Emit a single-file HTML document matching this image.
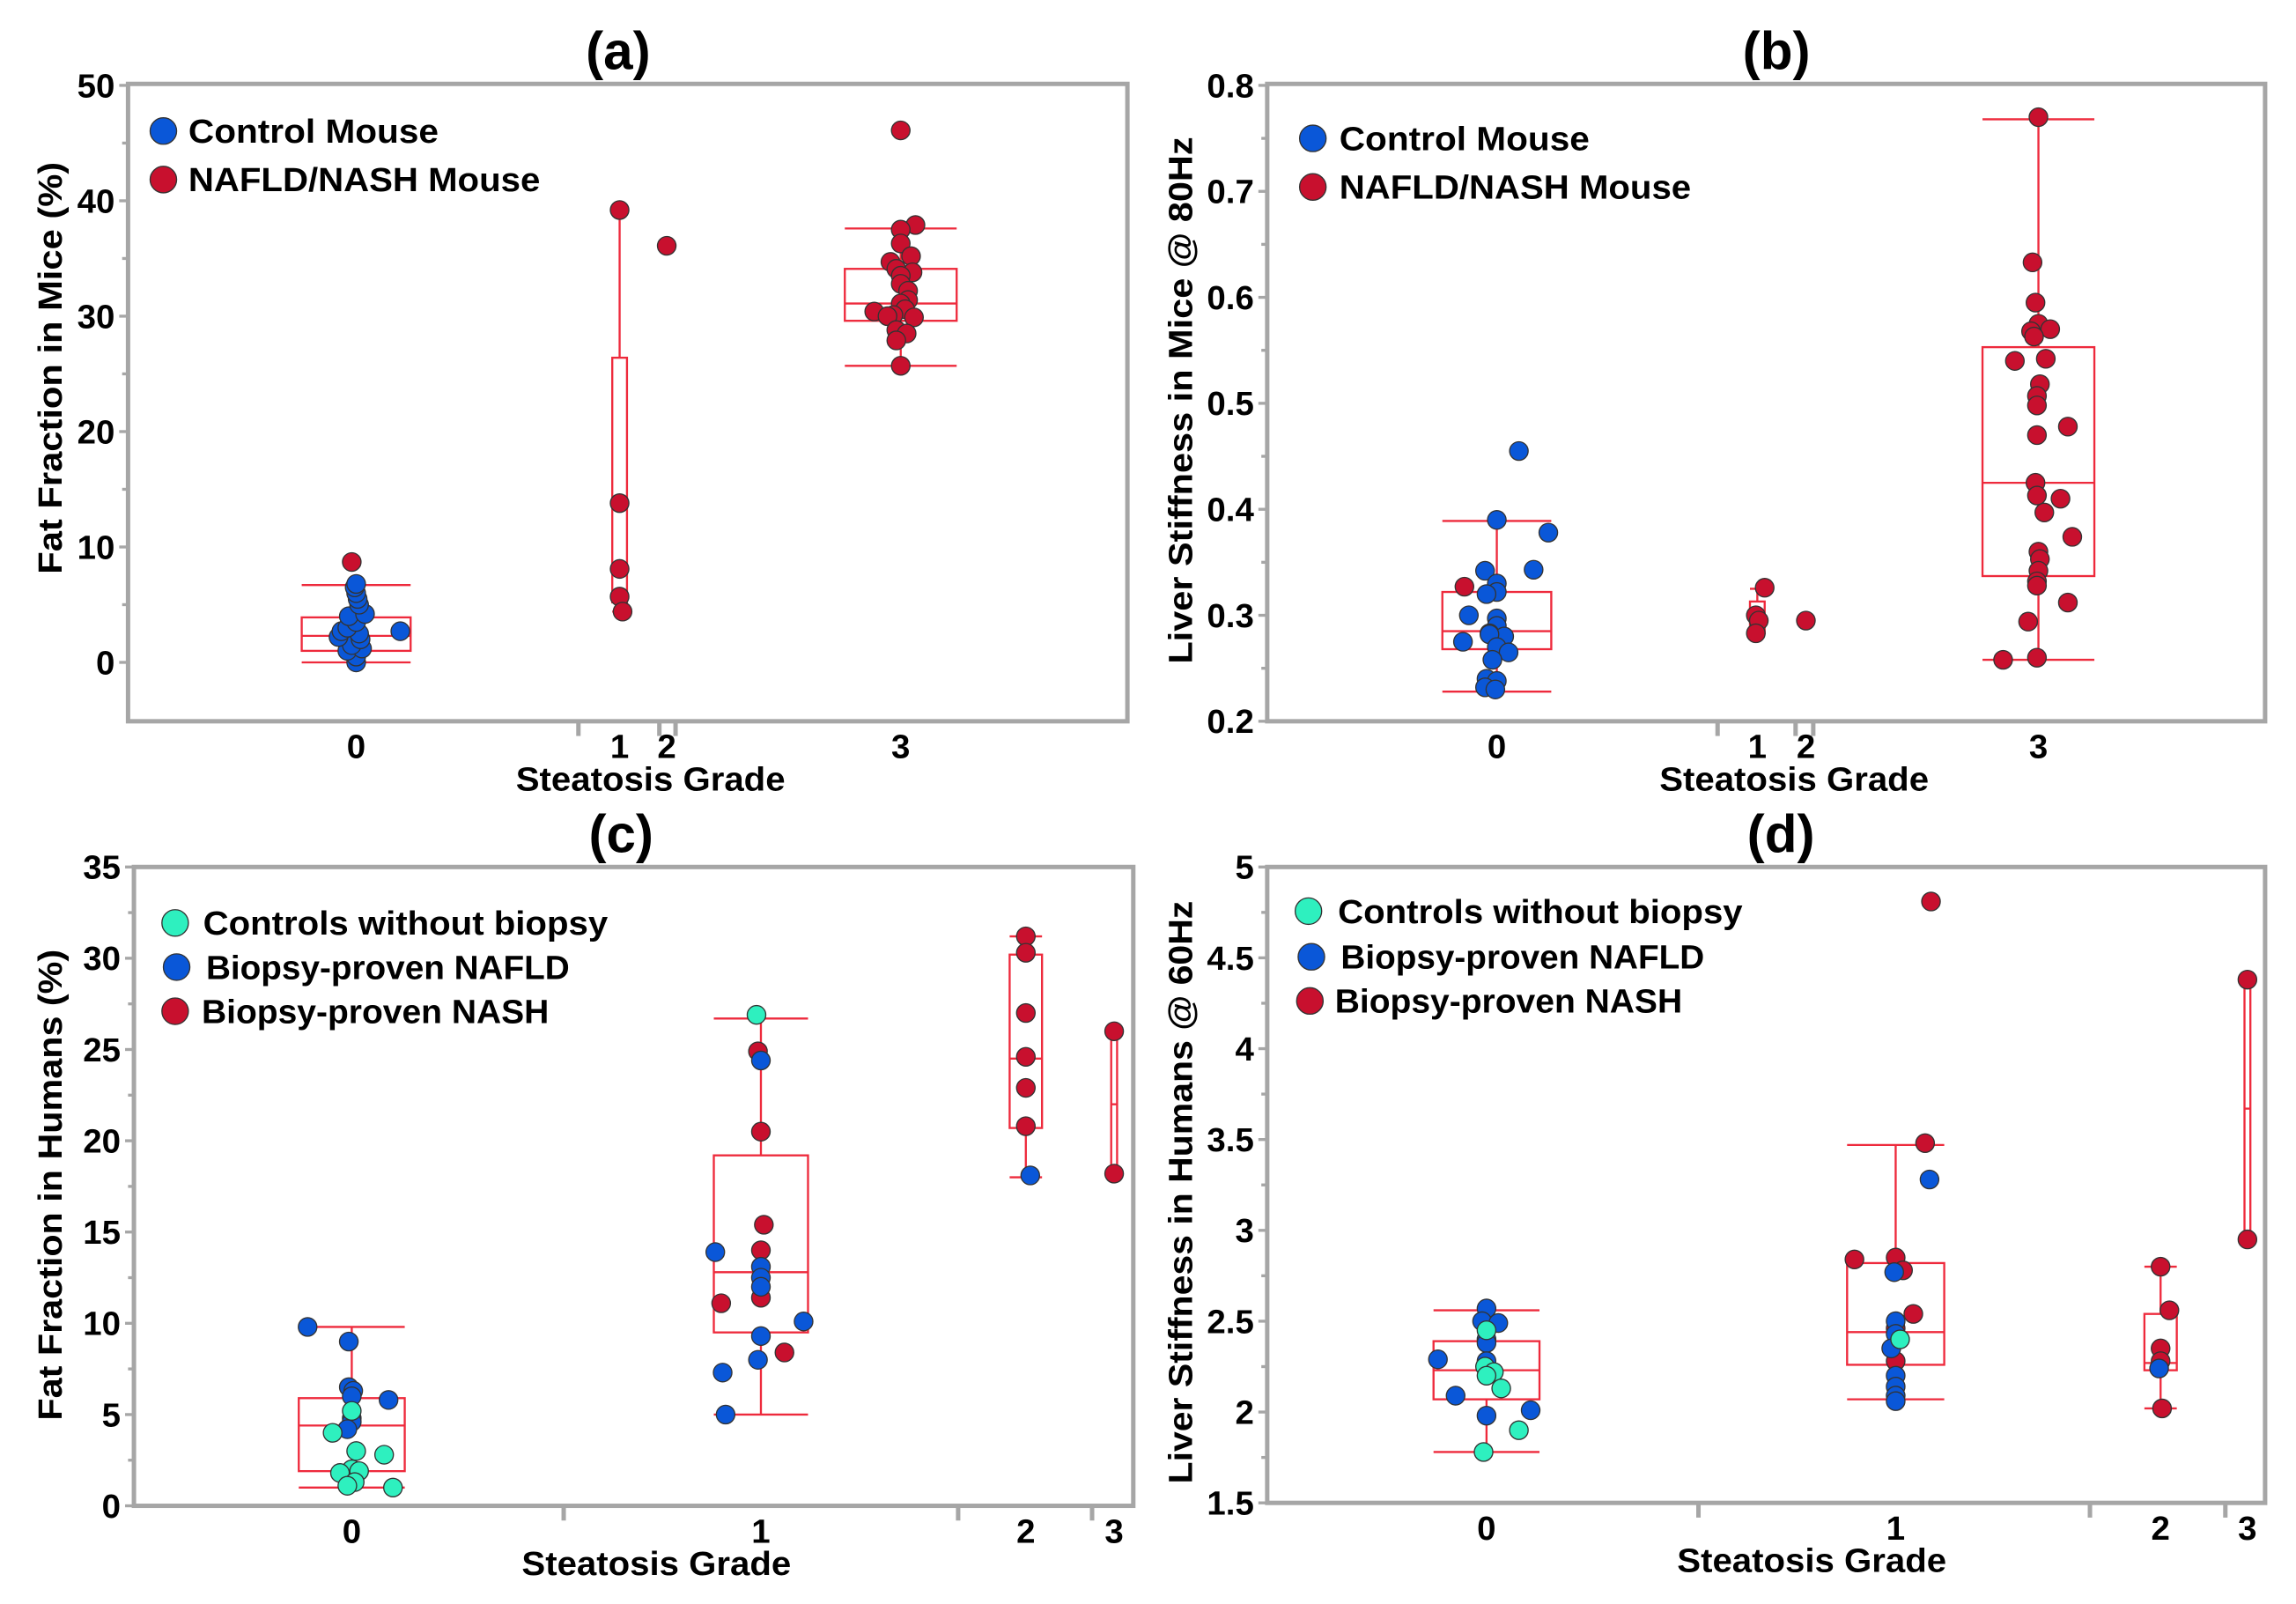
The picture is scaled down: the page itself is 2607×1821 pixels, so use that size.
<!DOCTYPE html>
<html><head><meta charset="utf-8">
<style>
html,body{margin:0;padding:0;background:#fff;}
svg{display:block;}
text{font-family:"Liberation Sans",sans-serif;font-weight:bold;fill:#000;}
</style></head>
<body>
<svg id="fig" xmlns="http://www.w3.org/2000/svg" width="2607" height="1821" viewBox="0 0 1560 1089.7" preserveAspectRatio="none"></svg>
<script>
// ---------- Panel (a) data ----------
const aCats = ["0","1","2","3"];
const aTicks = [0,10,20,30,40,50];
const aG0Blue = [0,0.5,1,1.2,1.5,2,2.2,2.5,2.7,3,3.5,4,4.2,5,5.5,6,6.5,6.8,2.7];
const aG0BlueJit = [0,0,-6,4,-3,3,-12,2,-10,-6,0,-5,6,2,1,0,-1,0,30];
const aG0Red = [8.7];
const aG1Red = [39.2,13.8,8.1,5.7,4.4];
const aG2Red = [36.1];
const aG3Red = [46.1,37.9,37.5,36.3,35.2,34.7,34.1,33.8,33.5,32.8,32.2,31.4,31.1,30.6,30.4,30.1,30.0,29.9,28.8,28.5,27.9,25.7];
const aG3Jit = [0,10,0,0,7,-7,-3,8,0,0,5,5,0,3,-18,-5,-9,9,-3,4,-3,0];
// box stats: [lowWhisker, q1, median, q3, highWhisker]
const aBox0 = [0,1,2.3,3.9,6.7];
const aBox1 = [4.4,5.2,5.2,26.4,39.2];
const aBox3 = [25.7,29.6,31.1,34.1,37.6];

// ---------- Panel (b) data ----------
const bTicks = [0.2,0.3,0.4,0.5,0.6,0.7,0.8];
const bG0Blue = [0.455,0.39,0.378,0.342,0.343,0.33,0.322,0.32,0.30,0.297,0.29,0.283,0.28,0.282,0.275,0.27,0.265,0.258,0.24,0.238,0.232,0.23];
const bG0BlueJit = [15,0,35,-8,25,0,0,-7,-19,0,0,-5,5,-5,-23,0,8,-3,-7,0,-8,-1];
const bG0Red = [0.327];
const bG0RedJit = [-22];
const bG1Red = [0.326,0.30,0.295,0.283];
const bG1Jit = [5,-1,1,-1];
const bG2Red = [0.295];
const bG3Red = [0.77,0.633,0.595,0.575,0.57,0.568,0.563,0.542,0.54,0.518,0.507,0.498,0.478,0.47,0.425,0.413,0.41,0.397,0.374,0.36,0.353,0.342,0.332,0.328,0.312,0.294,0.26,0.258];
const bG3Jit = [0,-4,-2,0,8,-5,-3,5,-16,1,-1,-1,20,-1,-2,-1,15,4,23,0,1,0,-1,-1,20,-7,-1,-24];
const bBox0 = [0.228,0.268,0.285,0.322,0.389];
const bBox1 = [0.283,0.283,0.297,0.313,0.325];
const bBox3 = [0.258,0.337,0.425,0.553,0.768];

// ---------- Panel (c) data ----------
const cTicks = [0,5,10,15,20,25,30,35];
const cG0Blue = [9.8,9.0,6.5,6.3,6.0,5.8,4.8,4.6,4.2];
const cG0BlueJit = [-30,-2,-2,1,0,25,0,0,-3];
const cG0Green = [5.2,4.0,3.0,2.8,2.0,1.8,1.9,1.3,1.1,1.0];
const cG0GreenJit = [0,-13,3,22,0,-8,5,2,-3,28];
const cG1Green = [26.9];
const cG1GreenJit = [-3];
const cG1Red = [24.9,20.5,15.4,14.0,11.4,11.1,8.4];
const cG1RedJit = [-2,0,2,0,0,-27,16];
const cG1Blue = [24.4,13.9,13.1,12.5,12.0,10.1,9.3,8.0,7.3,5.0];
const cG1BlueJit = [0,-31,0,0,0,29,0,-2,-26,-24];
const cG2Red = [31.2,30.3,27.0,24.6,22.9,20.8];
const cG2Blue = [18.1];
const cG3Red = [26.0,18.2];
const cBox0 = [1.0,1.9,4.4,5.9,9.8];
const cBox1 = [5.0,9.5,12.8,19.2,26.7];
const cBox2 = [18.0,20.7,24.5,30.2,31.2];
const cBox3 = [18.2,18.2,22.0,25.7,25.7];

// ---------- Panel (d) data ----------
const dTicks = [1.5,2,2.5,3,3.5,4,4.5,5];
const dTickLabels = ["1.5","2","2.5","3","3.5","4","4.5","5"];
const dG0Blue = [2.57,2.5,2.49,2.4,2.38,2.29,2.28,2.09,2.01,1.98];
const dG0BlueJit = [0,-3,8,0,0,-33,0,-21,30,0];
const dG0Green = [2.45,2.25,2.22,2.2,2.13,1.9,1.78];
const dG0GreenJit = [0,-1,5,0,10,22,-2];
const dG1Red = [4.81,3.48,2.85,2.84,2.78,2.54,2.46,2.28];
const dG1RedJit = [24,20,0,-28,5,12,0,0];
const dG1Blue = [3.28,2.77,2.5,2.43,2.35,2.2,2.14,2.09,2.06];
const dG1BlueJit = [23,-1,0,0,-3,0,0,0,0];
const dG1Green = [2.4];
const dG1GreenJit = [3];
const dG2Red = [2.8,2.56,2.35,2.28,2.02];
const dG2RedJit = [0,6,0,0,1];
const dG2Blue = [2.24];
const dG3Red = [4.38,2.95];
const dBox0 = [1.78,2.07,2.23,2.39,2.56];
const dBox1 = [2.07,2.26,2.44,2.82,3.47];
const dBox2 = [2.02,2.23,2.27,2.54,2.80];
const dBox3 = [2.95,2.95,3.67,4.36,4.36];

const NS = "http://www.w3.org/2000/svg";
const svg = document.getElementById('fig');
const BLUE="#0a57d8", RED="#c8102e", GREEN="#2ef0bf", BOXC="#ee2a3c", AX="#a6a6a6";
function mk(tag, attrs, parent){const e=document.createElementNS(NS,tag);for(const k in attrs)e.setAttribute(k,attrs[k]);(parent||svg).appendChild(e);return e;}

function panel(cfg){
  const g = mk('g',{});
  
  
  const y = v => cfg.yb + (v - cfg.v0)/(cfg.v1 - cfg.v0)*(cfg.yt - cfg.yb);
  const x = c => cfg.cx[c];
  const fr = mk('rect',{x:cfg.L,y:cfg.T,width:cfg.R-cfg.L,height:cfg.B-cfg.T,fill:'none',stroke:AX,'stroke-width':3},g);
  
  
  cfg.ticks.forEach((t,i)=>{
    const yy=y(t);
    const tk = mk('line',{x1:cfg.L-6,x2:cfg.L,y1:yy,y2:yy,stroke:AX,'stroke-width':2},g);
    
    
    const lb = mk('text',{x:cfg.L-9,y:yy+8,'text-anchor':'end','font-size':23},g);
    lb.textContent = cfg.tickLabels ? cfg.tickLabels[i] : String(t);
    
    
    if(i<cfg.ticks.length-1){
      const ym=y((t+cfg.ticks[i+1])/2);
      const mt = mk('line',{x1:cfg.L-4,x2:cfg.L,y1:ym,y2:ym,stroke:AX,'stroke-width':2},g);
      
      
    }
  });
  cfg.xsep.forEach(xx=>{
    const s = mk('line',{x1:xx,x2:xx,y1:cfg.B,y2:cfg.B+10,stroke:AX,'stroke-width':3},g);
    
    
  });
  cfg.cats.forEach((c,i)=>{
    const t = mk('text',{x:x(i),y:cfg.B+25,'text-anchor':'middle','font-size':23},g);
    t.textContent=c;
    
    
  });
  cfg.boxes.forEach(([ci,st,hw])=>{
    const cx=x(ci);
    const bg = mk('g',{fill:'none',stroke:BOXC,'stroke-width':1.4},g);
    
    
    mk('line',{x1:cx,x2:cx,y1:y(st[0]),y2:y(st[1])},bg);
    mk('line',{x1:cx,x2:cx,y1:y(st[3]),y2:y(st[4])},bg);
    mk('rect',{x:cx-hw,y:y(st[3]),width:2*hw,height:y(st[1])-y(st[3])},bg);
    mk('line',{x1:cx-hw,x2:cx+hw,y1:y(st[2]),y2:y(st[2])},bg);
    mk('line',{x1:cx-hw,x2:cx+hw,y1:y(st[0]),y2:y(st[0])},bg);
    mk('line',{x1:cx-hw,x2:cx+hw,y1:y(st[4]),y2:y(st[4])},bg);
  });
  cfg.series.forEach(([ci,vals,jit,col])=>{
    vals.forEach((v,i)=>{
      const p = mk('circle',{cx:x(ci)+(jit?jit[i]:0),cy:y(v),r:6.3,fill:col,stroke:'#333','stroke-width':0.8},g);
      
      
    });
  });
  const ti = mk('text',{x:cfg.titleX,y:cfg.T-10,'text-anchor':'middle','font-size':36},g);
  ti.textContent=cfg.title;
  
  
  const xl = mk('text',{x:cfg.xlabX,y:cfg.B+47,'text-anchor':'middle','font-size':23,textLength:183,lengthAdjust:'spacingAndGlyphs'},g);
  xl.textContent='Steatosis Grade';
  
  
  const yl = mk('text',{x:0,y:0,'text-anchor':'middle','font-size':23,textLength:cfg.ylabLen,lengthAdjust:'spacingAndGlyphs',transform:`translate(${cfg.ylabX},${cfg.ylabY}) rotate(-90)`},g);
  yl.textContent=cfg.ylab;
  
  
  cfg.legend.forEach(([col,label,cxp,cyp,tx,tw])=>{
    const lg = mk('g',{},g);
    
    
    mk('circle',{cx:cxp,cy:cyp,r:9,fill:col,stroke:'#333','stroke-width':0.8},lg);
    const t = mk('text',{x:tx,y:cyp+8,'font-size':23,textLength:tw,lengthAdjust:'spacingAndGlyphs'},lg);
    t.textContent=label;
  });
}

panel({name:'panel-a',L:87,R:766,T:57,B:490,v0:0,v1:50,yb:450,yt:58,ticks:aTicks,
  cats:aCats,cx:[242,421,453,612],xsep:[393,448,459],
  boxes:[[0,aBox0,37],[1,aBox1,5],[3,aBox3,38]],
  series:[[0,aG0Blue,aG0BlueJit,BLUE],[0,aG0Red,[-3],RED],[1,aG1Red,[0,0,0,0,2],RED],[2,aG2Red,null,RED],[3,aG3Red,aG3Jit,RED]],
  title:'(a)',titleX:420,xlabX:442,ylab:'Fat Fraction in Mice (%)',ylabX:42,ylabY:250,ylabLen:280,
  legend:[[BLUE,'Control Mouse',111,89,128,170],[RED,'NAFLD/NASH Mouse',111,122,128,239]]});

panel({name:'panel-b',L:861,R:1539,T:57,B:490,v0:0.2,v1:0.8,yb:490,yt:58,ticks:bTicks,
  tickLabels:bTicks.map(t=>t.toFixed(1)),
  cats:aCats,cx:[1017,1194,1227,1385],xsep:[1167,1220,1232],
  boxes:[[0,bBox0,37],[1,bBox1,5],[3,bBox3,38]],
  series:[[0,bG0Blue,bG0BlueJit,BLUE],[0,bG0Red,bG0RedJit,RED],[1,bG1Red,bG1Jit,RED],[2,bG2Red,null,RED],[3,bG3Red,bG3Jit,RED]],
  title:'(b)',titleX:1207,xlabX:1219,ylab:'Liver Stiffness in Mice @ 80Hz',ylabX:810,ylabY:272,ylabLen:358,
  legend:[[BLUE,'Control Mouse',892,94,910,170],[RED,'NAFLD/NASH Mouse',892,127,910,239]]});

panel({name:'panel-c',L:91,R:770,T:589,B:1023,v0:0,v1:35,yb:1023,yt:589,ticks:cTicks,
  cats:aCats,cx:[239,517,697,757],xsep:[383,651,742],
  boxes:[[0,cBox0,36],[1,cBox1,32],[2,cBox2,11],[3,cBox3,2]],
  series:[[0,cG0Blue,cG0BlueJit,BLUE],[0,cG0Green,cG0GreenJit,GREEN],[1,cG1Red,cG1RedJit,RED],[1,cG1Blue,cG1BlueJit,BLUE],[1,cG1Green,cG1GreenJit,GREEN],[2,cG2Red,null,RED],[2,cG2Blue,[3],BLUE],[3,cG3Red,null,RED]],
  title:'(c)',titleX:422,xlabX:446,ylab:'Fat Fraction in Humans (%)',ylabX:42,ylabY:805,ylabLen:320,
  legend:[[GREEN,'Controls without biopsy',119,627,138,275],[BLUE,'Biopsy-proven NAFLD',120,657,140,247],[RED,'Biopsy-proven NASH',119,687,137,236]]});

panel({name:'panel-d',L:861,R:1539,T:589,B:1021,v0:1.5,v1:5,yb:1021,yt:589,ticks:dTicks,tickLabels:dTickLabels,
  cats:aCats,cx:[1010,1288,1468,1527],xsep:[1154,1420,1512],
  boxes:[[0,dBox0,36],[1,dBox1,33],[2,dBox2,11],[3,dBox3,2]],
  series:[[0,dG0Blue,dG0BlueJit,BLUE],[0,dG0Green,dG0GreenJit,GREEN],[1,dG1Red,dG1RedJit,RED],[1,dG1Blue,dG1BlueJit,BLUE],[1,dG1Green,dG1GreenJit,GREEN],[2,dG2Red,dG2RedJit,RED],[2,dG2Blue,[-1],BLUE],[3,dG3Red,null,RED]],
  title:'(d)',titleX:1210,xlabX:1231,ylab:'Liver Stiffness in Humans @ 60Hz',ylabX:810,ylabY:810,ylabLen:396,
  legend:[[GREEN,'Controls without biopsy',889,619,909,275],[BLUE,'Biopsy-proven NAFLD',891,650,911,247],[RED,'Biopsy-proven NASH',890,680,907,236]]});
</script>
</body></html>
